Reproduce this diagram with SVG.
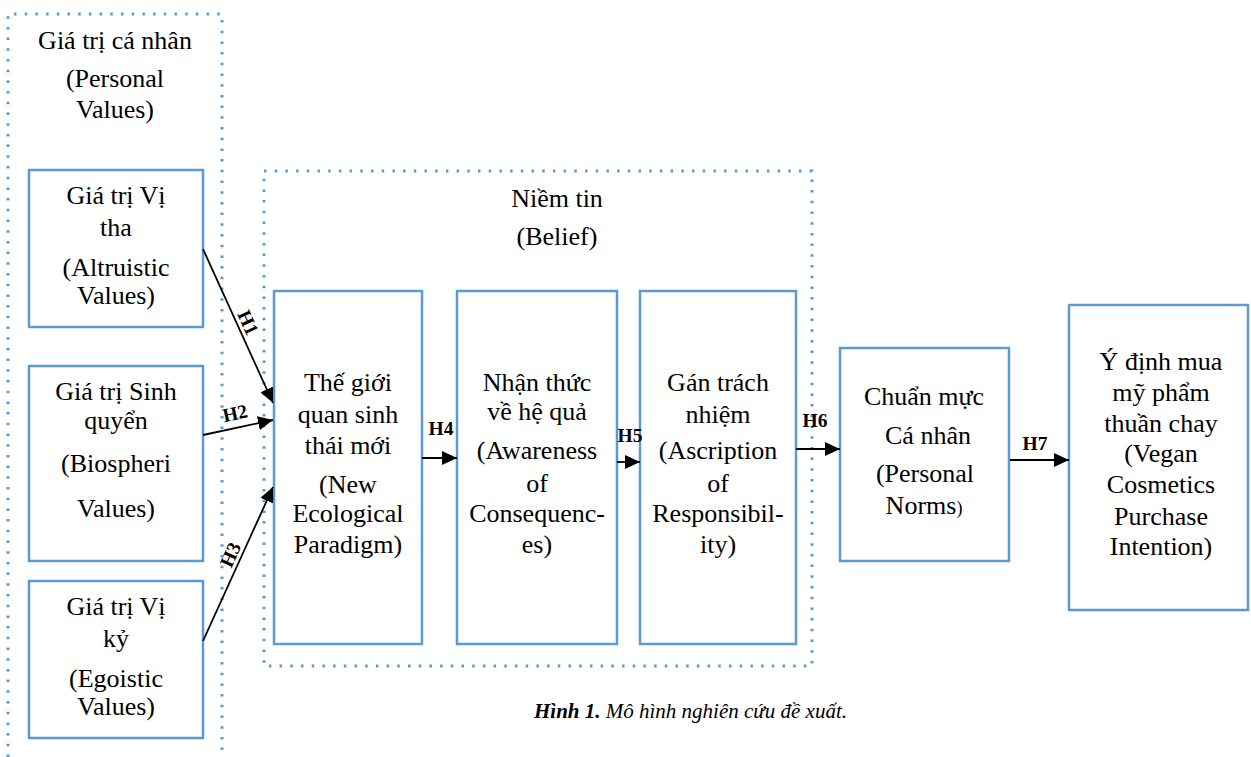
<svg xmlns="http://www.w3.org/2000/svg" width="1251" height="757" viewBox="0 0 1251 757">
<defs>
<style>
.box{fill:#fff;stroke:#5B9BD5;stroke-width:2.5}
.dot{fill:none;stroke:#5B9BD5;stroke-width:3;stroke-dasharray:2.5 8.2}
.t{font-family:"Liberation Serif","Times New Roman",serif;font-size:26px;fill:#000;text-anchor:middle}
.lbl{font-family:"Liberation Serif","Times New Roman",serif;font-size:19.5px;font-weight:bold;fill:#000;text-anchor:middle}
.cap{font-family:"Liberation Serif","Times New Roman",serif;font-size:21px;font-style:italic;fill:#000}
.arr{stroke:#000;stroke-width:1.8;fill:none;marker-end:url(#ah)}
</style>
<marker id="ah" markerUnits="userSpaceOnUse" markerWidth="16" markerHeight="14" refX="15" refY="7" orient="auto">
<path d="M0,0 L15,7 L0,14 Z" fill="#000"/>
</marker>
</defs>
<rect width="1251" height="757" fill="#fff"/>

<g id="personal-values">
<path class="dot" d="M8,757 V14 H222 V757"/>
<text class="t" x="115" y="49">Giá trị cá nhân</text>
<text class="t" x="115" y="87">(Personal</text>
<text class="t" x="115" y="118">Values)</text>
</g>

<g id="belief">
<rect class="dot" x="264" y="171" width="548" height="495"/>
<text class="t" x="557" y="207">Niềm tin</text>
<text class="t" x="557" y="245">(Belief)</text>
</g>

<g id="altruistic">
<rect class="box" x="29" y="170" width="174" height="157"/>
<text class="t" x="116" y="204">Giá trị Vị</text>
<text class="t" x="116" y="236">tha</text>
<text class="t" x="116" y="276">(Altruistic</text>
<text class="t" x="116" y="304">Values)</text>
</g>

<g id="biospheric">
<rect class="box" x="29" y="366" width="174" height="195"/>
<text class="t" x="116" y="400">Giá trị Sinh</text>
<text class="t" x="116" y="429">quyển</text>
<text class="t" x="116" y="472">(Biospheri</text>
<text class="t" x="116" y="517">Values)</text>
</g>

<g id="egoistic">
<rect class="box" x="29" y="581" width="174" height="157"/>
<text class="t" x="116" y="615">Giá trị Vị</text>
<text class="t" x="116" y="647">kỷ</text>
<text class="t" x="116" y="687">(Egoistic</text>
<text class="t" x="116" y="715">Values)</text>
</g>

<g id="nep">
<rect class="box" x="274" y="291" width="148" height="353"/>
<text class="t" x="348" y="391">Thế giới</text>
<text class="t" x="348" y="423">quan sinh</text>
<text class="t" x="348" y="454">thái mới</text>
<text class="t" x="348" y="493">(New</text>
<text class="t" x="348" y="522">Ecological</text>
<text class="t" x="348" y="553">Paradigm)</text>
</g>

<g id="awareness">
<rect class="box" x="457" y="291" width="160" height="353"/>
<text class="t" x="537" y="391">Nhận thức</text>
<text class="t" x="537" y="420">về hệ quả</text>
<text class="t" x="537" y="459">(Awareness</text>
<text class="t" x="537" y="492">of</text>
<text class="t" x="537" y="522">Consequenc-</text>
<text class="t" x="537" y="553">es)</text>
</g>

<g id="ascription">
<rect class="box" x="640" y="291" width="156" height="353"/>
<text class="t" x="718" y="391">Gán trách</text>
<text class="t" x="718" y="423">nhiệm</text>
<text class="t" x="718" y="459">(Ascription</text>
<text class="t" x="718" y="492">of</text>
<text class="t" x="718" y="522">Responsibil-</text>
<text class="t" x="718" y="553">ity)</text>
</g>

<g id="personal-norms">
<rect class="box" x="840" y="348" width="169" height="213"/>
<text class="t" x="924" y="405">Chuẩn mực</text>
<text class="t" x="928" y="444">Cá nhân</text>
<text class="t" x="925" y="482">(Personal</text>
<text class="t" x="924" y="514">Norms<tspan style="font-size:18px">)</tspan></text>
</g>

<g id="intention">
<rect class="box" x="1069" y="305" width="179" height="305"/>
<text class="t" x="1161" y="370">Ý định mua</text>
<text class="t" x="1161" y="401">mỹ phẩm</text>
<text class="t" x="1161" y="432">thuần chay</text>
<text class="t" x="1161" y="462">(Vegan</text>
<text class="t" x="1161" y="493">Cosmetics</text>
<text class="t" x="1161" y="525">Purchase</text>
<text class="t" x="1161" y="555">Intention)</text>
</g>

<g id="connectors">
<line class="arr" x1="203" y1="249" x2="273" y2="403"/>
<line class="arr" x1="203" y1="435" x2="273" y2="420"/>
<line class="arr" x1="203" y1="641" x2="273" y2="487"/>
<line class="arr" x1="422" y1="458" x2="457" y2="458"/>
<line class="arr" x1="617" y1="462" x2="640" y2="462"/>
<line class="arr" x1="796" y1="449" x2="840" y2="449"/>
<line class="arr" x1="1010" y1="460" x2="1069" y2="460"/>
<text class="lbl" transform="translate(238.5,327) rotate(65.6)" x="0" y="-4">H1</text>
<text class="lbl" transform="translate(238,427.5) rotate(-12.1)" x="0" y="-8">H2</text>
<text class="lbl" transform="translate(240,559) rotate(-65.6)" x="0" y="-4">H3</text>
<text class="lbl" x="441" y="435">H4</text>
<text class="lbl" x="630" y="442">H5</text>
<text class="lbl" x="815" y="427">H6</text>
<text class="lbl" x="1035" y="450">H7</text>
</g>

<g id="caption">
<text class="cap" x="534" y="718"><tspan font-weight="bold">Hình 1.</tspan> Mô hình nghiên cứu đề xuất.</text>
</g>
</svg>
